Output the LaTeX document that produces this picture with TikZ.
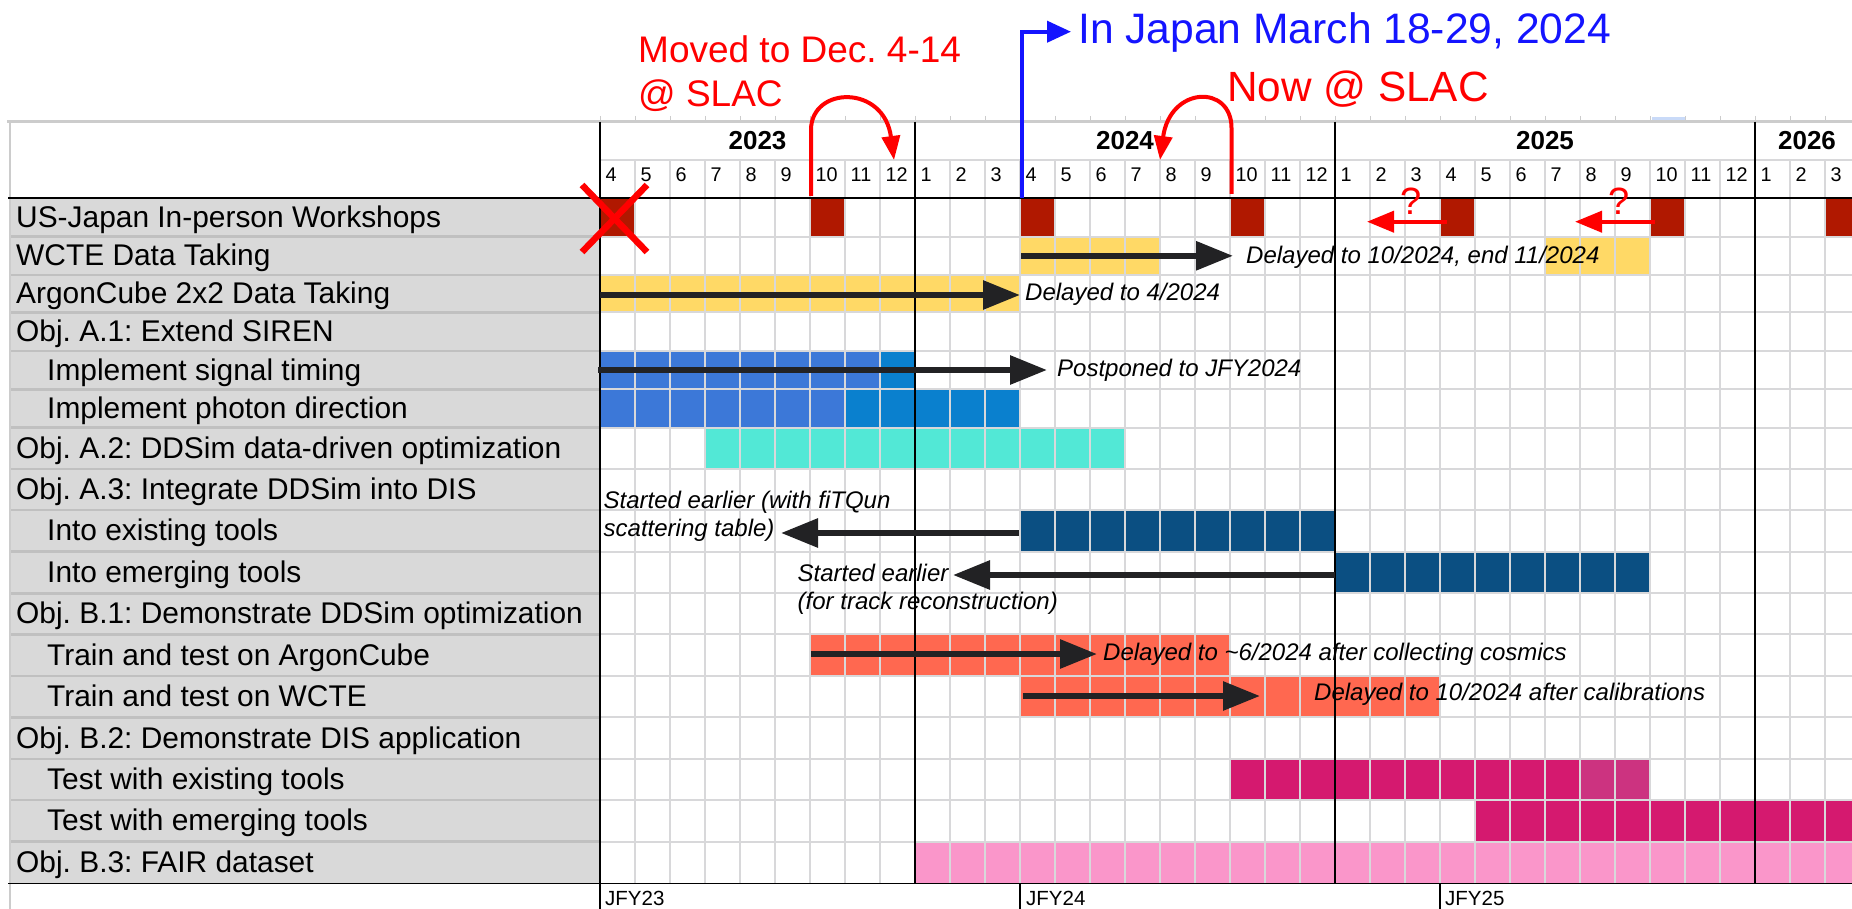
\documentclass[tikz,border=0pt]{standalone}
\usepackage{fontspec}
\setmainfont{Liberation Sans}
\usetikzlibrary{arrows.meta}
\definecolor{wsred}{RGB}{176,24,0}
\definecolor{ylw}{RGB}{255,217,102}
\definecolor{blueA}{RGB}{60,120,216}
\definecolor{blueB}{RGB}{10,128,206}
\definecolor{turq}{RGB}{82,232,214}
\definecolor{navy}{RGB}{11,79,130}
\definecolor{salmon}{RGB}{255,104,80}
\definecolor{mag}{RGB}{213,25,111}
\definecolor{magL}{RGB}{204,51,128}
\definecolor{pinkB}{RGB}{250,150,202}
\definecolor{lblgrey}{RGB}{217,217,217}
\definecolor{sepgrey}{RGB}{192,192,192}
\definecolor{gridgrey}{RGB}{216,216,218}
\definecolor{topgrey}{RGB}{204,204,204}
\definecolor{annblack}{RGB}{34,34,36}
\definecolor{annred}{RGB}{255,0,0}
\definecolor{annblue}{RGB}{20,20,255}
\definecolor{hilite}{RGB}{201,218,248}
\tikzset{
  lbl/.style={anchor=base west, inner sep=0pt, font=\fontsize{29.9}{34}\selectfont, text=black},
  mon/.style={anchor=base west, inner sep=0pt, font=\fontsize{19.8}{22}\selectfont},
  yr/.style={anchor=base, inner sep=0pt, font=\fontsize{26}{30}\selectfont\bfseries},
  note/.style={anchor=base west, inner sep=0pt, font=\fontsize{24}{28}\selectfont\itshape, text=black},
  jfy/.style={anchor=base west, inner sep=0pt, font=\fontsize{20.5}{24}\selectfont},
  redtxt/.style={anchor=base west, inner sep=0pt, text=annred},
  bigarrow/.style={draw=annblack, line width=6pt, -{Triangle[length=37pt,width=28pt]}},
  redarrow/.style={draw=annred, line width=4pt, -{Triangle[length=24pt,width=18pt]}},
  gridline/.style={draw=gridgrey, line width=2pt},
  blackline/.style={draw=black, line width=1.6pt},
}
\def\rowy{{198,236.7,275,312.3,351,389.3,427.7,469,510,551.7,593.3,634.3,676,717.3,759,800,841.7,883.3}}
\newcommand\gcells[4]{%
  \pgfmathsetmacro\gya{\rowy[#1]}%
  \pgfmathsetmacro\gyb{\rowy[#1+1]}%
  \fill[#4] ({600+35*#2},\gya) rectangle ({635+35*#3},\gyb);
}
\begin{document}
\frenchspacing
\begin{tikzpicture}[x=1pt,y=-1pt]
\useasboundingbox (0,0) rectangle (1852,909);
\clip (0,0) rectangle (1852,909);
\fill[white] (0,0) rectangle (1852,909);
% label column
\fill[lblgrey] (10,198) rectangle (600,883.3);
% bars
\foreach \c in {0,6,12,18,24,30,35} {\gcells{0}{\c}{\c}{wsred}}
\gcells{1}{12}{15}{ylw}
\gcells{1}{27}{29}{ylw}
\gcells{2}{0}{11}{ylw}
\gcells{4}{0}{7}{blueA}
\gcells{4}{8}{8}{blueB}
\gcells{5}{0}{6}{blueA}
\gcells{5}{7}{11}{blueB}
\gcells{6}{3}{14}{turq}
\gcells{8}{12}{20}{navy}
\gcells{9}{21}{29}{navy}
\gcells{11}{6}{17}{salmon}
\gcells{12}{12}{23}{salmon}
\gcells{14}{18}{27}{mag}
\gcells{14}{28}{29}{magL}
\gcells{15}{25}{36}{mag}
\gcells{16}{9}{36}{pinkB}
% grid
\foreach \k in {1,...,36} {\draw[gridline] ({600+35*\k},160) -- ({600+35*\k},883.3);}
\foreach \k in {0,...,36} {\draw[topgrey, line width=1pt] ({600+35*\k},116) -- ({600+35*\k},121.7);}
\draw[gridline] (600,160) -- (1852,160);
\foreach \i in {1,...,16} {
  \pgfmathsetmacro\yy{\rowy[\i]}
  \draw[gridline] (600,\yy) -- (1852,\yy);
  \draw[sepgrey, line width=2.5pt] (10,\yy) -- (600,\yy);
}
\fill[hilite] (1652,117.5) rectangle (1685,121.7);
\draw[topgrey, line width=2.5pt] (7,121.7) -- (1852,121.7);
\draw[topgrey, line width=1.5pt] (10,121.7) -- (10,909);
% black lines
\draw[blackline] (600,121.7) -- (600,909);
\foreach \xx in {915,1335,1755} {\draw[blackline] (\xx,121.7) -- (\xx,883.3);}
\draw[blackline] (8,198) -- (1852,198);
\draw[blackline] (8,883.3) -- (1852,883.3);
\foreach \xx in {1020,1440} {\draw[blackline] (\xx,883.3) -- (\xx,909);}
% header text
\node[yr] (y23) at (757.5,150) {2023};
\node[yr] (y24) at (1125,150) {2024};
\node[yr] (y25) at (1545,150) {2025};
\node[yr] (y26) at (1807,150) {2026};
\foreach \k in {0,...,35} {
  \pgfmathtruncatemacro\mm{mod(\k+3,12)+1}
  \node[mon] (m\k) at ({605.5+35*\k},181.7) {\mm};
}
% labels
\foreach \r/\ix/\t in {0/16/{US-Japan In-person Workshops},1/16/{WCTE Data Taking},2/16/{ArgonCube 2x2 Data Taking},3/16/{Obj. A.1: Extend SIREN},4/47/{Implement signal timing},5/47/{Implement photon direction},6/16/{Obj. A.2: DDSim data-driven optimization},7/16/{Obj. A.3: Integrate DDSim into DIS},8/47/{Into existing tools},9/47/{Into emerging tools},10/16/{Obj. B.1: Demonstrate DDSim optimization},11/47/{Train and test on ArgonCube},12/47/{Train and test on WCTE},13/16/{Obj. B.2: Demonstrate DIS application},14/47/{Test with existing tools},15/47/{Test with emerging tools},16/16/{Obj. B.3: FAIR dataset}} {
  \pgfmathsetmacro\ya{\rowy[\r]}
  \pgfmathtruncatemacro\rn{\r+1}
  \pgfmathsetmacro\yc{\rowy[\rn]}
  \pgfmathsetmacro\yb{(\ya+\yc)/2+10}
  \node[lbl] (lbl\r) at (\ix,\yb) {\t};
}
% bottom JFY
\node[jfy] (j23) at (605,905) {JFY23};
\node[jfy] (j24) at (1026,905) {JFY24};
\node[jfy] (j25) at (1445,905) {JFY25};
% notes
\node[note] (n1) at (1246,263.3) {Delayed to 10/2024, end 11/2024};
\node[note] (n2) at (1025,300.7) {Delayed to 4/2024};
\node[note] (n3) at (1057,376.7) {Postponed to JFY2024};
\node[note] (n4a) at (603.5,508.3) {Started earlier (with fiTQun};
\node[note] (n4b) at (603.5,536.3) {scattering table)};
\node[note] (n5a) at (797.5,581.7) {Started earlier};
\node[note] (n5b) at (797.5,609.7) {(for track reconstruction)};
\node[note] (n6) at (1103,660.7) {Delayed to \textasciitilde 6/2024 after collecting cosmics};
\node[note] (n7) at (1314,700.7) {Delayed to 10/2024 after calibrations};
% black arrows
\coordinate (a1s) at (1021,255.8); \coordinate (a1e) at (1233,255.8);
\coordinate (a2s) at (600,295); \coordinate (a2e) at (1020,295);
\coordinate (a3s) at (598,370); \coordinate (a3e) at (1047,370);
\coordinate (a4s) at (1019,533); \coordinate (a4e) at (781,533);
\coordinate (a5s) at (1335,575); \coordinate (a5e) at (953,575);
\coordinate (a6s) at (811,654); \coordinate (a6e) at (1097,654);
\coordinate (a7s) at (1023,696); \coordinate (a7e) at (1260,696);
\foreach \a in {1,...,7} {\draw[bigarrow] (a\a s) -- (a\a e);}
% red X
\draw[annred, line width=6.5pt] (582,185) -- (647,252);
\draw[annred, line width=6.5pt] (647,185) -- (582,252);
% red texts
\node[redtxt, font=\fontsize{37}{44}\selectfont] (mv1) at (638,62.7) {Moved to Dec. 4-14};
\node[redtxt, font=\fontsize{37}{44}\selectfont] (mv2) at (638,106.7) {@ SLAC};
\node[redtxt, font=\fontsize{42.3}{48}\selectfont] (now) at (1227,101.7) {Now @ SLAC};
\node[anchor=base west, inner sep=0pt, text=annblue, font=\fontsize{42.6}{48}\selectfont] (jp) at (1078,43.3) {In Japan March 18-29, 2024};
% red curved arrows
\coordinate (r1s) at (811,196); \coordinate (r1e) at (894,160);
\draw[redarrow] (r1s) -- (811,130) .. controls (811,86) and (884,84) .. (r1e);
\coordinate (r2s) at (1231.5,194); \coordinate (r2e) at (1160,160);
\draw[redarrow] (r2s) -- (1231.5,128) .. controls (1231.5,84) and (1170,86) .. (r2e);
% blue arrow
\coordinate (bs) at (1021.7,198); \coordinate (be) at (1071,31.7);
\draw[draw=annblue, line width=4pt, -{Triangle[length=24pt,width=21pt]}] (bs) |- (be);
% question arrows
\coordinate (q1s) at (1447,221.7); \coordinate (q1e) at (1367,221.7);
\coordinate (q2s) at (1655,221.7); \coordinate (q2e) at (1575,221.7);
\draw[draw=annred, line width=4pt, -{Triangle[length=27pt,width=21pt]}] (q1s) -- (q1e);
\draw[draw=annred, line width=4pt, -{Triangle[length=27pt,width=21pt]}] (q2s) -- (q2e);
\node[anchor=base, inner sep=0pt, text=annred, font=\fontsize{38}{44}\selectfont] (q1) at (1411,215) {?};
\node[anchor=base, inner sep=0pt, text=annred, font=\fontsize{38}{44}\selectfont] (q2) at (1619,215) {?};
\end{tikzpicture}
\end{document}
